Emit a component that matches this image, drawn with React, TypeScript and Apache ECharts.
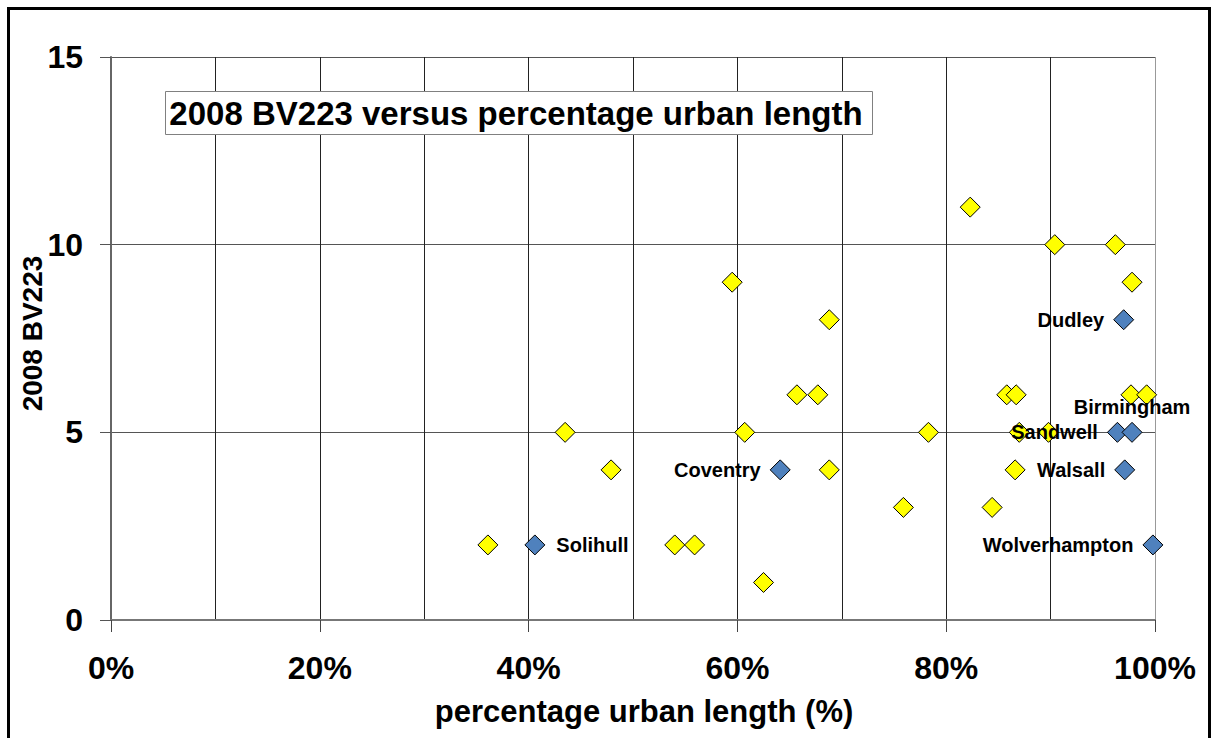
import React, { useEffect, useRef } from "react";
import * as echarts from "echarts";

// Other authorities (yellow): percentage urban length (%), 2008 BV223
const otherX = [36.1, 43.5, 47.9, 54.0, 55.9, 59.5, 60.7, 62.5, 65.7, 67.7, 68.8, 68.8, 75.9, 78.3, 82.3, 84.4, 85.8, 86.7, 86.6, 87.0, 89.8, 90.4, 96.2, 97.8, 97.7, 99.2];
const otherY = [2, 5, 4, 2, 2, 9, 5, 1, 6, 6, 8, 4, 3, 5, 11, 3, 6, 6, 4, 5, 5, 10, 10, 9, 6, 6];

// Metropolitan districts (blue)
const metNames = ["Solihull", "Coventry", "Sandwell", "Birmingham", "Dudley", "Walsall", "Wolverhampton"];
const metX = [40.6, 64.1, 96.4, 97.8, 97.0, 97.1, 99.8];
const metY = [2, 4, 5, 5, 8, 4, 2];

const xTicks = [0, 20, 40, 60, 80, 100];
const yTicks = [0, 5, 10, 15];

const chartTitle = "2008 BV223 versus percentage urban length";
const xTitle = "percentage urban length (%)";
const yTitle = "2008 BV223";

const FONT = "'Liberation Sans', Arial, sans-serif";

export default function App() {
  const ref = useRef<HTMLDivElement>(null);
  useEffect(() => {
    if (!ref.current) return;
    const chart = echarts.init(ref.current, null, { renderer: "svg" });
    const labelPos: Record<string, any> = {
      Solihull: { position: "right", distance: 11 },
      Birmingham: { position: "top", distance: 5 },
    };
    const option: any = {
      animation: false,
      textStyle: { fontFamily: FONT },
      grid: { left: 111, top: 57, right: 59, bottom: 118, containLabel: false },
      xAxis: {
        type: "value",
        min: xTicks[0],
        max: xTicks[xTicks.length - 1],
        interval: 20,
        axisLine: { show: true, onZero: false, lineStyle: { color: "#777", width: 2 } },
        axisTick: { show: true, length: 12, lineStyle: { color: "#444", width: 1 } },
        minorTick: { show: false, splitNumber: 2 },
        minorSplitLine: { show: true, lineStyle: { color: "#222", width: 1 } },
        splitLine: {
          show: true,
          lineStyle: { color: ["#222", "#222", "#222", "#222", "#222", "#999"], width: 1 },
        },
        axisLabel: {
          formatter: "{value}%",
          fontSize: 32,
          fontWeight: "bold",
          color: "#000",
          fontFamily: FONT,
          margin: 32,
        },
      },
      yAxis: {
        type: "value",
        min: yTicks[0],
        max: yTicks[yTicks.length - 1],
        interval: 5,
        axisLine: { show: true, onZero: false, lineStyle: { color: "#666", width: 2 } },
        axisTick: { show: true, length: 11, lineStyle: { color: "#555", width: 1 } },
        splitLine: { show: true, lineStyle: { color: "#555", width: 1 } },
        axisLabel: {
          fontSize: 32,
          fontWeight: "bold",
          color: "#000",
          fontFamily: FONT,
          margin: 28,
        },
      },
      series: [
        {
          type: "scatter",
          name: "Other",
          symbol: "diamond",
          symbolSize: 20,
          itemStyle: { color: "#FFFF00", borderColor: "#000", borderWidth: 1, opacity: 1 },
          data: otherX.map((x, i) => [x, otherY[i]]),
          z: 3,
        },
        {
          type: "scatter",
          name: "Metropolitan",
          symbol: "diamond",
          symbolSize: 20,
          itemStyle: { color: "#4F81BD", borderColor: "#000", borderWidth: 1, opacity: 1 },
          label: {
            show: true,
            formatter: "{b}",
            position: "left",
            distance: 9,
            fontSize: 20,
            fontWeight: "bold",
            color: "#000",
            fontFamily: FONT,
          },
          data: metNames.map((n, i) => ({
            name: n,
            value: [metX[i], metY[i]],
            label: labelPos[n] || undefined,
          })),
          z: 4,
        },
      ],
      graphic: [
        {
          type: "rect",
          shape: { x: 8.5, y: 8.5, width: 1201, height: 800 },
          style: { fill: "none", stroke: "#000", lineWidth: 3 },
          silent: true,
          z: 100,
        },
        {
          type: "rect",
          shape: { x: 165.5, y: 91.5, width: 707, height: 43 },
          style: { fill: "#fff", stroke: "#808080", lineWidth: 1 },
          z: 100,
        },
        {
          type: "text",
          x: 516,
          y: 113.5,
          style: {
            text: chartTitle,
            font: `bold 33px ${FONT}`,
            fill: "#000",
            align: "center",
            verticalAlign: "middle",
          },
          z: 101,
        },
        {
          type: "text",
          x: 644,
          y: 711,
          style: {
            text: xTitle,
            font: `bold 31px ${FONT}`,
            fill: "#000",
            align: "center",
            verticalAlign: "middle",
          },
          z: 101,
        },
        {
          type: "text",
          x: 32,
          y: 333.5,
          rotation: Math.PI / 2,
          style: {
            text: yTitle,
            font: `bold 28px ${FONT}`,
            fill: "#000",
            align: "center",
            verticalAlign: "middle",
          },
          z: 101,
        },
      ],
    };
    chart.setOption(option);
    return () => chart.dispose();
  }, []);
  return (
    <div
      ref={ref}
      style={{ position: "absolute", left: 0, top: 0, width: 1214, height: 738, background: "#fff" }}
    />
  );
}
